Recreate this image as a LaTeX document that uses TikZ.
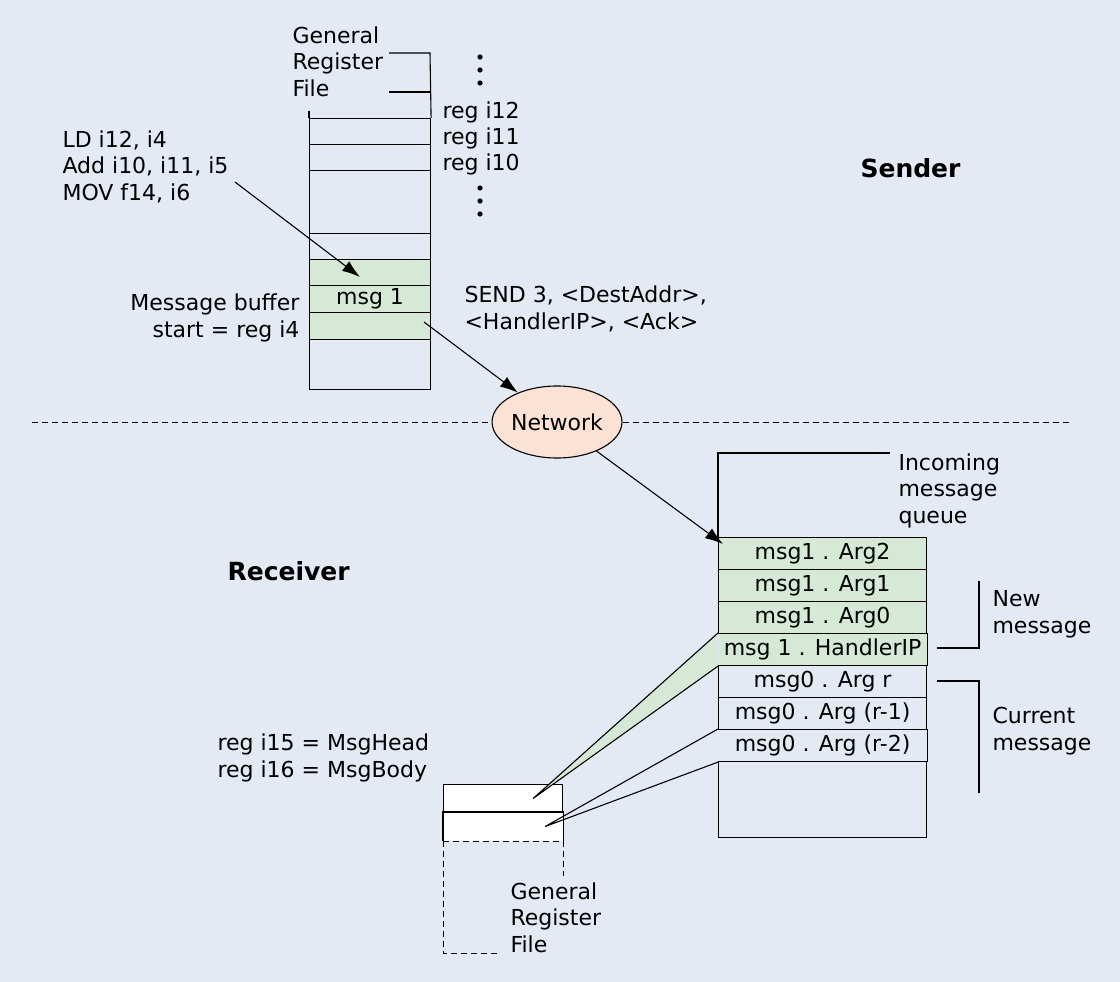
\documentclass[tikz,border=0pt]{standalone}
\usepackage{fontspec}
\setmainfont{DejaVu Sans}
\usetikzlibrary{arrows.meta,shapes.geometric}
\definecolor{bgc}{RGB}{227,234,244}
\definecolor{rowgreen}{RGB}{214,233,214}
\definecolor{netfill}{RGB}{252,226,212}
\begin{document}
\begin{tikzpicture}[x=1pt,y=-1pt,
  font=\fontsize{22}{26.5}\selectfont,
  line width=1.1pt,
  reg/.style={draw, minimum width=121pt, inner sep=0pt, anchor=north west},
  greenreg/.style={reg, fill=rowgreen},
  qrow/.style={draw, minimum width=208pt, minimum height=32pt, inner sep=0pt, anchor=north west},
  qopen/.style={qrow, draw=none},
  lbl/.style={inner sep=0pt, align=left, anchor=base west},
  arr/.style={-{Latex[length=18pt,width=12pt]}},
  sep/.style={line width=0.9pt, dash pattern=on 6pt off 4pt},
  dot/.style={fill=black}]
\fill[bgc] (0,0) rectangle (1120,982);
\useasboundingbox (0,0) rectangle (1120,982);

% ---------------- Sender ----------------
\node[reg, minimum height=26pt] (s12) at (309,118) {};
\node[reg, minimum height=26pt] (s11) at (309,144) {};
\node[reg, minimum height=63pt] (s10) at (309,170) {};
\node[reg, minimum height=26pt] (s5) at (309,233) {};
\node[greenreg, minimum height=26pt] (g1) at (309,259) {};
\node[greenreg, minimum height=27pt] (g2) at (309,285) {msg 1};
\node[greenreg, minimum height=27pt] (g3) at (309,312) {};
\node[reg, minimum height=50pt] (s0) at (309,339) {};

\coordinate (gb1) at (389,53);
\coordinate (gb2) at (430,53);
\coordinate (gb3) at (389,92);
\coordinate (gb4) at (430,92);
\draw (gb1) -- (gb2) -- (s12.north east);
\draw (gb3) -- (gb4);
\draw (s12.north west) -- ++(0,-7);

% multi-line labels: base anchor = baseline of the last line
\node[lbl] (sgrf) at (292,96) {General\\Register\\File};
\node[lbl] (l12) at (442,118) {reg i12};
\node[lbl] (l11) at (442,144) {reg i11};
\node[lbl] (l10) at (442,170) {reg i10};
\foreach \y in {57,70,83,188,201,214} \fill[dot] (480,\y) circle (2.6pt);

\node[lbl] (code) at (62,200) {LD i12, i4\\Add i10, i11, i5\\MOV f14, i6};
\node[lbl, align=right, anchor=base east] (mbuf) at (300,337) {Message buffer\\start = reg i4};
\node[lbl] (send) at (464,329) {SEND 3, <DestAddr>,\\<HandlerIP>, <Ack>};
\node[font=\fontsize{25}{30}\selectfont\bfseries, inner sep=0pt, anchor=base west] (sender) at (860,177) {Sender};

\coordinate (codeend) at (235,182);
\coordinate (ldtip) at (360,277);
\draw[arr] (codeend) -- (ldtip);

% ---------------- Network ----------------
\node[ellipse, draw, fill=netfill, minimum width=126pt, minimum height=72pt, inner sep=0pt] (net) at (557,422) {Network};
\coordinate (dl) at (32,422);
\coordinate (dr) at (1071,422);
\draw[sep] (dl) -- (net.west);
\draw[sep] (net.east) -- (dr);
\coordinate (sendstart) at (424,322);
\draw[arr] (sendstart) -- (net);

% ---------------- Receiver ----------------
\node[font=\fontsize{25}{30}\selectfont\bfseries, inner sep=0pt, anchor=base west] (receiver) at (227,580) {Receiver};

\node[draw, fill=white, minimum width=119pt, minimum height=28pt, inner sep=0pt, anchor=north west] (rhead) at (443,784) {};
\node[fill=white, minimum width=119pt, minimum height=28pt, inner sep=0pt, anchor=north west] (rbody) at (443,812) {};
\draw (rbody.south west) -- (rbody.north west) -- (rbody.north east) -- (rbody.south east);
\draw[sep] (rbody.south west) -- (rbody.south east);
\draw[sep] (rbody.south west) -- ++(0,112) -- ++(57,0);
\draw[sep] (rbody.south east) -- ++(0,35);
\node[lbl] (rgrf) at (510,952) {General\\Register\\File};
\node[lbl] (rmsg) at (217,777) {reg i15 = MsgHead\\reg i16 = MsgBody};

\node[qrow, fill=rowgreen] (qa2) at (718,537) {msg1 . Arg2};
\node[qrow, fill=rowgreen] (qa1) at (718,569) {msg1 . Arg1};
\node[qrow, fill=rowgreen] (qa0) at (718,601) {msg1 . Arg0};
\node[qopen, fill=rowgreen] (qhip) at (718,633) {msg 1 . HandlerIP};
\node[qrow] (qr0) at (718,665) {msg0 . Arg r};
\node[qrow] (qr1) at (718,697) {msg0 . Arg (r-1)};
\node[qopen] (qr2) at (718,729) {msg0 . Arg (r-2)};
\node[qrow, minimum height=76pt] (qe) at (718,761) {};
\draw (qhip.north east) -- (qhip.south east);
\draw (qr2.north east) -- (qr2.south east);

\coordinate (qtl) at (718,453);
\coordinate (qtr) at (890,453);
\draw (qtr) -- (qtl) -- (qa2.north west);
\node[lbl] (inq) at (898,523) {Incoming\\message\\queue};

\coordinate (qtip) at (723,544);
\draw[arr] (net) -- (qtip);

\filldraw[fill=rowgreen] (qhip.north west) -- ([xshift=30pt]rhead.center) -- (qhip.south west);
\draw (qr2.north west) -- ([xshift=42pt]rbody.center) -- (qr2.south west);

\coordinate (nm1) at (937,648);
\coordinate (nm2) at (979,581);
\draw (nm1) -| (nm2);
\coordinate (cm1) at (937,681);
\coordinate (cm2) at (979,793);
\draw (cm1) -| (cm2);
\node[lbl] (newm) at (992,633) {New\\message};
\node[lbl] (curm) at (992,750) {Current\\message};
\end{tikzpicture}
\end{document}
